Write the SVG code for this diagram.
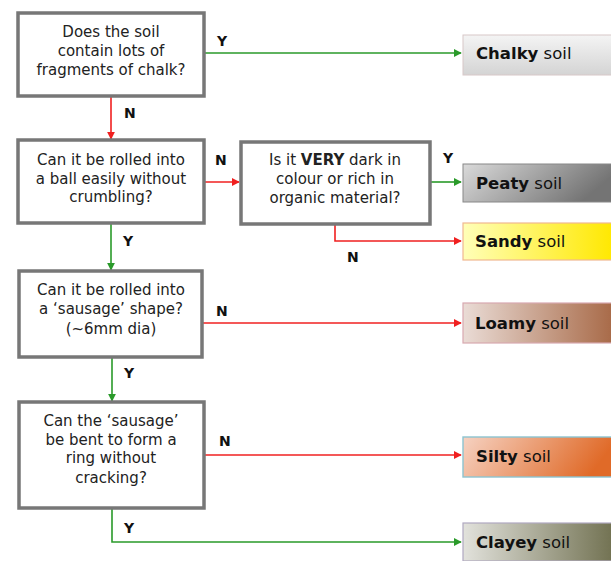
<svg xmlns="http://www.w3.org/2000/svg" width="611" height="561" viewBox="0 0 611 561">
<defs>
<style>
.q{fill:#fff;stroke:#777;stroke-width:3.5}
.qt{font-family:"DejaVu Sans",Verdana,sans-serif;font-size:15px;fill:#222;text-anchor:middle}
.lb{font-family:"DejaVu Sans",Verdana,sans-serif;font-size:14px;font-weight:bold;fill:#111}
.rt{font-family:"DejaVu Sans",Verdana,sans-serif;font-size:16.5px;fill:#111}
.rt tspan.b{font-weight:bold}
.y{stroke:#2a9a2a;stroke-width:1.6;fill:none}
.n{stroke:#f02020;stroke-width:1.6;fill:none}
</style>
<marker id="ag" viewBox="0 0 10 10" refX="9" refY="5" markerWidth="8" markerHeight="8" markerUnits="userSpaceOnUse" orient="auto"><path d="M0,0 L10,5 L0,10 z" fill="#2a9a2a"/></marker>
<marker id="ar" viewBox="0 0 10 10" refX="9" refY="5" markerWidth="8" markerHeight="8" markerUnits="userSpaceOnUse" orient="auto"><path d="M0,0 L10,5 L0,10 z" fill="#f02020"/></marker>
<linearGradient id="gChalky" x1="0" y1="0" x2="0" y2="1"><stop offset="0" stop-color="#f4f4f4"/><stop offset="1" stop-color="#d4d4d4"/></linearGradient>
<linearGradient id="gPeaty" x1="0" y1="0" x2="1" y2="0.3"><stop offset="0" stop-color="#dadada"/><stop offset="1" stop-color="#747474"/></linearGradient>
<linearGradient id="gSandy" x1="0" y1="0" x2="1" y2="0"><stop offset="0" stop-color="#ffffb8"/><stop offset="1" stop-color="#ffe800"/></linearGradient>
<linearGradient id="gLoamy" x1="0" y1="0" x2="1" y2="0"><stop offset="0" stop-color="#eadcd6"/><stop offset="1" stop-color="#a86a48"/></linearGradient>
<linearGradient id="gSilty" x1="0" y1="0" x2="1" y2="0.2"><stop offset="0" stop-color="#f6d2c2"/><stop offset="1" stop-color="#e06a28"/></linearGradient>
<linearGradient id="gClayey" x1="0" y1="0" x2="1" y2="0"><stop offset="0" stop-color="#e2e2dc"/><stop offset="1" stop-color="#727252"/></linearGradient>
</defs>
<rect width="611" height="561" fill="#fff"/>

<g id="connectors">
<path class="y" d="M204,53 H461" marker-end="url(#ag)"/>
<path class="n" d="M111,97 V139" marker-end="url(#ar)"/>
<path class="n" d="M204,182 H239" marker-end="url(#ar)"/>
<path class="y" d="M430,182 H461" marker-end="url(#ag)"/>
<path class="n" d="M335,224 V241 H461" marker-end="url(#ar)"/>
<path class="y" d="M111,223 V270" marker-end="url(#ag)"/>
<path class="n" d="M202,323 H461" marker-end="url(#ar)"/>
<path class="y" d="M112,357 V401" marker-end="url(#ag)"/>
<path class="n" d="M204,455 H461" marker-end="url(#ar)"/>
<path class="y" d="M112,508 V542 H461" marker-end="url(#ag)"/>
<text class="lb" x="217" y="46">Y</text>
<text class="lb" x="124" y="118">N</text>
<text class="lb" x="215" y="165">N</text>
<text class="lb" x="443" y="163">Y</text>
<text class="lb" x="347" y="262">N</text>
<text class="lb" x="123" y="246">Y</text>
<text class="lb" x="216" y="316">N</text>
<text class="lb" x="124" y="378">Y</text>
<text class="lb" x="219" y="446">N</text>
<text class="lb" x="124" y="533">Y</text>
</g>

<g id="q1">
<rect class="q" x="18" y="13" width="186" height="83"/>
<text class="qt" x="111" y="37">Does the soil</text>
<text class="qt" x="111" y="56">contain lots of</text>
<text class="qt" x="111" y="75">fragments of chalk?</text>
</g>
<g id="q2">
<rect class="q" x="18" y="140" width="186" height="83"/>
<text class="qt" x="111" y="165">Can it be rolled into</text>
<text class="qt" x="111" y="184">a ball easily without</text>
<text class="qt" x="111" y="202">crumbling?</text>
</g>
<g id="q3">
<rect class="q" x="241" y="142" width="189" height="82"/>
<text class="qt" x="335" y="165">Is it <tspan font-weight="bold">VERY</tspan> dark in</text>
<text class="qt" x="335" y="184">colour or rich in</text>
<text class="qt" x="335" y="203">organic material?</text>
</g>
<g id="q4">
<rect class="q" x="19" y="271" width="183" height="86"/>
<text class="qt" x="111" y="295">Can it be rolled into</text>
<text class="qt" x="111" y="314">a ‘sausage’ shape?</text>
<text class="qt" x="111" y="334">(~6mm dia)</text>
</g>
<g id="q5">
<rect class="q" x="19" y="402" width="185" height="106"/>
<text class="qt" x="111" y="426">Can the ‘sausage’</text>
<text class="qt" x="111" y="445">be bent to form a</text>
<text class="qt" x="111" y="463">ring without</text>
<text class="qt" x="111" y="483">cracking?</text>
</g>

<g id="chalky">
<rect x="463" y="35" width="150" height="40" fill="url(#gChalky)" stroke="#d8c8c8" stroke-width="1"/>
<text class="rt" x="476" y="59"><tspan class="b">Chalky</tspan> soil</text>
</g>
<g id="peaty">
<rect x="463" y="164" width="150" height="38" fill="url(#gPeaty)" stroke="#888" stroke-width="1"/>
<text class="rt" x="476" y="189"><tspan class="b">Peaty</tspan> soil</text>
</g>
<g id="sandy">
<rect x="463" y="223" width="150" height="37" fill="url(#gSandy)" stroke="#f0b890" stroke-width="1.2"/>
<text class="rt" x="475" y="247"><tspan class="b">Sandy</tspan> soil</text>
</g>
<g id="loamy">
<rect x="463" y="303" width="150" height="40" fill="url(#gLoamy)" stroke="#d8a8b0" stroke-width="1.2"/>
<text class="rt" x="475" y="329"><tspan class="b">Loamy</tspan> soil</text>
</g>
<g id="silty">
<rect x="463" y="437" width="150" height="40" fill="url(#gSilty)" stroke="#8cc4d0" stroke-width="1.4"/>
<text class="rt" x="476" y="462"><tspan class="b">Silty</tspan> soil</text>
</g>
<g id="clayey">
<rect x="463" y="523" width="150" height="38" fill="url(#gClayey)" stroke="#b0a8c0" stroke-width="1.2"/>
<text class="rt" x="476" y="548"><tspan class="b">Clayey</tspan> soil</text>
</g>
</svg>
